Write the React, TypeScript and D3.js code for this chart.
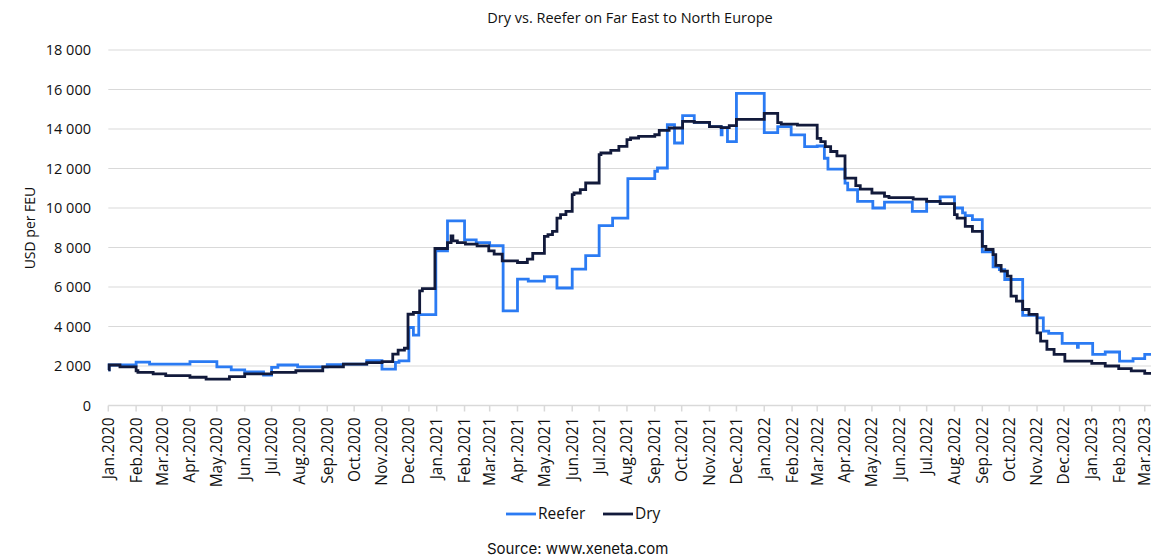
import React from "react";
import * as d3 from "d3";

// step data: [start date, USD per FEU]
const reefer: [string, number][] = [
  ["2020-01-01", 1800], ["2020-01-02", 2050], ["2020-02-01", 2200], ["2020-02-16", 2100],
  ["2020-04-01", 2220], ["2020-05-01", 1960], ["2020-05-17", 1800], ["2020-06-01", 1700],
  ["2020-06-22", 1545], ["2020-07-01", 1930], ["2020-07-08", 2050], ["2020-07-30", 1960],
  ["2020-09-01", 2070], ["2020-09-19", 2100], ["2020-10-15", 2270], ["2020-11-01", 1840],
  ["2020-11-16", 2180], ["2020-11-20", 2260], ["2020-12-01", 3950], ["2020-12-06", 3560],
  ["2020-12-12", 4600], ["2020-12-31", 7830], ["2021-01-13", 9350], ["2021-02-01", 8390],
  ["2021-02-14", 8250], ["2021-03-01", 8100], ["2021-03-16", 4790], ["2021-04-01", 6400],
  ["2021-04-13", 6300], ["2021-05-01", 6520], ["2021-05-15", 5950], ["2021-06-01", 6910],
  ["2021-06-16", 7590], ["2021-07-01", 9110], ["2021-07-16", 9490], ["2021-08-02", 11485],
  ["2021-09-01", 11860], ["2021-09-04", 12025], ["2021-09-15", 14220], ["2021-09-23", 13290],
  ["2021-10-02", 14675], ["2021-10-15", 14340], ["2021-11-01", 14120], ["2021-11-14", 13700],
  ["2021-11-15", 14070], ["2021-11-21", 13360], ["2021-12-01", 15800], ["2022-01-01", 13820],
  ["2022-01-16", 14120], ["2022-01-31", 13700], ["2022-02-15", 13110], ["2022-03-01", 13140],
  ["2022-03-09", 12520], ["2022-03-13", 11970], ["2022-04-01", 11260], ["2022-04-04", 10925],
  ["2022-04-15", 10340], ["2022-05-02", 10000], ["2022-05-15", 10300], ["2022-06-15", 9830],
  ["2022-07-01", 10340], ["2022-07-16", 10560], ["2022-08-01", 10000], ["2022-08-10", 9750],
  ["2022-08-13", 9610], ["2022-08-21", 9410], ["2022-09-01", 7780], ["2022-09-13", 7020],
  ["2022-09-20", 6880], ["2022-09-26", 6380], ["2022-10-16", 4560], ["2022-11-01", 4440],
  ["2022-11-08", 3770], ["2022-11-14", 3650], ["2022-11-29", 3145], ["2022-12-16", 2950],
  ["2022-12-17", 3145], ["2023-01-02", 2590], ["2023-01-16", 2710], ["2023-02-01", 2250],
  ["2023-02-16", 2370], ["2023-03-01", 2590], ["2023-03-08", 2590],
];

const dry: [string, number][] = [
  ["2020-01-01", 1800], ["2020-01-02", 2050], ["2020-01-14", 1960], ["2020-02-01", 1760],
  ["2020-02-03", 1680], ["2020-02-20", 1600], ["2020-03-05", 1510], ["2020-04-01", 1430],
  ["2020-04-19", 1340], ["2020-05-15", 1460], ["2020-06-01", 1600], ["2020-07-01", 1680],
  ["2020-07-28", 1760], ["2020-08-27", 1960], ["2020-09-19", 2100], ["2020-10-15", 2170],
  ["2020-11-01", 2220], ["2020-11-13", 2600], ["2020-11-19", 2800], ["2020-11-26", 2900],
  ["2020-11-30", 4620], ["2020-12-06", 4710], ["2020-12-13", 5800], ["2020-12-16", 5920],
  ["2020-12-30", 7950], ["2021-01-13", 8250], ["2021-01-17", 8590], ["2021-01-19", 8340],
  ["2021-01-24", 8250], ["2021-02-02", 8170], ["2021-02-15", 8080], ["2021-02-28", 7830],
  ["2021-03-06", 7660], ["2021-03-15", 7325], ["2021-04-01", 7240], ["2021-04-12", 7410],
  ["2021-04-18", 7700], ["2021-05-01", 8565], ["2021-05-05", 8650], ["2021-05-10", 8820],
  ["2021-05-15", 9490], ["2021-05-19", 9660], ["2021-05-25", 9830], ["2021-06-01", 10675],
  ["2021-06-03", 10760], ["2021-06-10", 10930], ["2021-06-16", 11265], ["2021-07-01", 12700],
  ["2021-07-03", 12785], ["2021-07-14", 12920], ["2021-07-23", 13120], ["2021-08-01", 13460],
  ["2021-08-05", 13545], ["2021-08-14", 13630], ["2021-09-01", 13710], ["2021-09-06", 13930],
  ["2021-09-17", 14050], ["2021-10-02", 14390], ["2021-10-15", 14340], ["2021-11-01", 14120],
  ["2021-11-14", 14070], ["2021-11-23", 14170], ["2021-12-01", 14490], ["2022-01-01", 14790],
  ["2022-01-16", 14320], ["2022-01-20", 14250], ["2022-02-07", 14200], ["2022-03-01", 13530],
  ["2022-03-05", 13360], ["2022-03-10", 13110], ["2022-03-16", 12860], ["2022-03-23", 12640],
  ["2022-04-01", 11510], ["2022-04-13", 11130], ["2022-04-18", 10960], ["2022-05-01", 10760],
  ["2022-05-15", 10590], ["2022-05-20", 10530], ["2022-06-16", 10450], ["2022-07-01", 10340],
  ["2022-07-16", 10220], ["2022-08-01", 9660], ["2022-08-04", 9490], ["2022-08-13", 9070],
  ["2022-08-21", 8820], ["2022-09-01", 8060], ["2022-09-05", 7900], ["2022-09-13", 7640],
  ["2022-09-16", 7090], ["2022-09-22", 6800], ["2022-09-29", 6550], ["2022-10-03", 5540],
  ["2022-10-09", 5280], ["2022-10-16", 4860], ["2022-10-23", 4610], ["2022-11-01", 3680],
  ["2022-11-05", 3260], ["2022-11-12", 2840], ["2022-11-20", 2590], ["2022-12-02", 2250],
  ["2023-01-01", 2130], ["2023-01-16", 2000], ["2023-01-31", 1865], ["2023-02-14", 1750],
  ["2023-03-01", 1630], ["2023-03-08", 1630],
];

const yTicks = [0, 2000, 4000, 6000, 8000, 10000, 12000, 14000, 16000, 18000];

const REEFER = "#2b7bf3";
const DRY = "#121a3b";
const GRID = "#d9d9d9";
const FONT = "'Open Sans', sans-serif";

const parse = d3.timeParse("%Y-%m-%d");
const fmtMonth = d3.timeFormat("%b.%Y");
const fmtY = (v: number) => (v >= 1000 ? d3.format(",")(v).replace(",", " ") : String(v));

export default function App() {
  const width = 1163;
  const height = 559;
  const margin = { top: 50, right: 12, bottom: 153.5, left: 108.3 };

  const start = parse("2020-01-01")!;
  const end = parse("2023-03-08")!;

  const x = d3.scaleTime().domain([start, end]).range([margin.left, width - margin.right]);
  const y = d3.scaleLinear().domain([0, 18000]).range([height - margin.bottom, margin.top]);

  const line = d3
    .line<[string, number]>()
    .x(d => x(parse(d[0])!))
    .y(d => y(d[1]))
    .curve(d3.curveStepAfter);

  const months = d3.timeMonth.range(start, d3.timeDay.offset(end, 1));
  const y0 = y(0);

  return (
    <svg width={width} height={height} style={{ position: "absolute", left: 0, top: 0, background: "#fff" }}>
      <text x={630} y={23} textAnchor="middle" fontFamily={FONT} fontSize={14.5} fill="#111">
        Dry vs. Reefer on Far East to North Europe
      </text>

      {yTicks.map(t => (
        <g key={t}>
          {t > 0 && <line x1={margin.left} x2={width - margin.right} y1={y(t)} y2={y(t)} stroke={GRID} strokeWidth={1} />}
          <text x={91} y={y(t)} dy="0.35em" textAnchor="end" fontFamily={FONT} fontSize={14.5} fill="#111">
            {fmtY(t)}
          </text>
        </g>
      ))}

      <text
        transform={`translate(35, 228) rotate(-90)`}
        textAnchor="middle"
        fontFamily={FONT}
        fontSize={14}
        fill="#111"
      >
        USD per FEU
      </text>

      <line x1={margin.left} x2={width - margin.right} y1={y0} y2={y0} stroke={GRID} strokeWidth={1.5} />
      {months.map(m => (
        <g key={m.toISOString()} transform={`translate(${x(m)},0)`}>
          <line y1={y0} y2={y0 + 6} stroke={GRID} strokeWidth={1.5} />
          <text
            transform={`translate(0, ${y0 + 12}) rotate(-90)`}
            textAnchor="end"
            dy="0.35em"
            fontFamily={FONT}
            fontSize={15.5}
            fill="#111"
          >
            {fmtMonth(m)}
          </text>
        </g>
      ))}

      <path d={line(reefer) ?? ""} fill="none" stroke={REEFER} strokeWidth={2.8} />
      <path d={line(dry) ?? ""} fill="none" stroke={DRY} strokeWidth={2.8} />

      <g fontFamily={FONT} fontSize={15.5} fill="#111">
        <line x1={506} x2={536} y1={514} y2={514} stroke={REEFER} strokeWidth={2.8} />
        <text x={538} y={514} dy="0.35em">Reefer</text>
        <line x1={603} x2={633} y1={514} y2={514} stroke={DRY} strokeWidth={2.8} />
        <text x={635} y={514} dy="0.35em">Dry</text>
      </g>

      <text x={487} y={554} fontFamily="Inter, sans-serif" fontSize={15} fill="#111">
        Source: www.xeneta.com
      </text>
    </svg>
  );
}
